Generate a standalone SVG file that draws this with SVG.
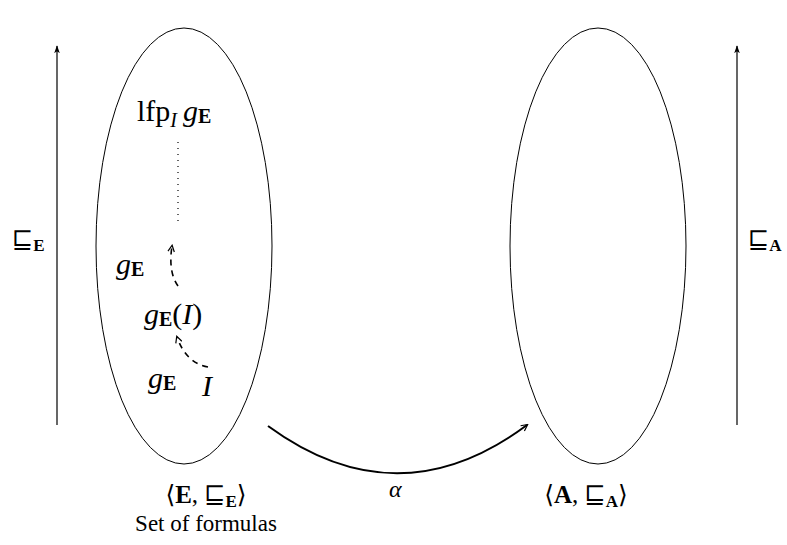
<svg xmlns="http://www.w3.org/2000/svg" width="787" height="545" viewBox="0 0 787 545">
<style>
text{font-family:"Liberation Serif","DejaVu Serif",serif;font-size:30px;fill:#000}
.txt{font-size:23px}
.lab{font-size:25px}
.it{font-style:italic}
.b{font-weight:bold}
.sub{font-size:20px}
.ell{fill:none;stroke:#000;stroke-width:1}
.ax{fill:none;stroke:#000;stroke-width:1.2}
.dash{fill:none;stroke:#000;stroke-width:1.6;stroke-dasharray:6,5}
</style>
<defs>
<marker id="ah" viewBox="0 0 10 10" refX="8" refY="5" markerWidth="8" markerHeight="8" markerUnits="userSpaceOnUse" orient="auto">
<path d="M1,1 L9,5 L1,9" fill="none" stroke="#000" stroke-width="1.5"/>
</marker>
<marker id="af" viewBox="0 0 10 10" refX="9" refY="5" markerWidth="8" markerHeight="8" markerUnits="userSpaceOnUse" orient="auto">
<path d="M0,1.5 L10,5 L0,8.5 L2.5,5 Z" fill="#000"/>
</marker>
</defs>
<g id="E-set">
<ellipse class="ell" cx="184" cy="246" rx="88" ry="218"/>
<text class="lab" x="206" y="503" text-anchor="middle">⟨<tspan class="b">E</tspan>, ⊑<tspan class="b" style="font-size:17px" dy="4">E</tspan><tspan dy="-4">⟩</tspan></text>
<text class="txt" x="206" y="531" text-anchor="middle">Set of formulas</text>
</g>
<g id="A-set">
<ellipse class="ell" cx="598" cy="246" rx="88" ry="218"/>
<text class="lab" x="586" y="503" text-anchor="middle">⟨<tspan class="b">A</tspan>, ⊑<tspan class="b" style="font-size:17px" dy="4">A</tspan><tspan dy="-4">⟩</tspan></text>
</g>
<g id="lfp"><text x="137" y="121">lfp<tspan class="it sub" dy="6">I</tspan><tspan class="it" dy="-6" dx="6">g</tspan><tspan class="sub b" dy="2">E</tspan></text></g>
<g id="gEI"><text x="144" y="324"><tspan class="it">g</tspan><tspan class="sub b" dy="2">E</tspan><tspan dy="-2">(</tspan><tspan class="it">I</tspan>)</text></g>
<g id="I"><text class="it" x="202" y="396">I</text></g>
<g id="labelE"><text class="lab" x="12" y="248">⊑<tspan class="b" style="font-size:17px" dy="3">E</tspan></text></g>
<g id="labelA"><text class="lab" x="748" y="248">⊑<tspan class="b" style="font-size:17px" dy="3">A</tspan></text></g>
<g id="connectors">
<line class="ax" x1="57" y1="425" x2="57" y2="46" marker-end="url(#af)"/>
<line class="ax" x1="737" y1="425" x2="737" y2="46" marker-end="url(#af)"/>
<path d="M268,426 Q398,521 527,425" fill="none" stroke="#000" stroke-width="2" marker-end="url(#ah)"/>
<text class="it" x="389" y="497" style="font-size:24px">α</text>
<line x1="178" y1="142" x2="178" y2="226" stroke="#000" stroke-width="1.2" stroke-dasharray="1,5"/>
<path class="dash" d="M178,286 Q168,272 172,246" marker-end="url(#ah)"/>
<text x="116" y="274"><tspan class="it">g</tspan><tspan class="sub b" dy="2">E</tspan></text>
<path class="dash" d="M208,367 Q186,363 177,337" marker-end="url(#ah)"/>
<text x="148" y="388"><tspan class="it">g</tspan><tspan class="sub b" dy="2">E</tspan></text>
</g>
</svg>
